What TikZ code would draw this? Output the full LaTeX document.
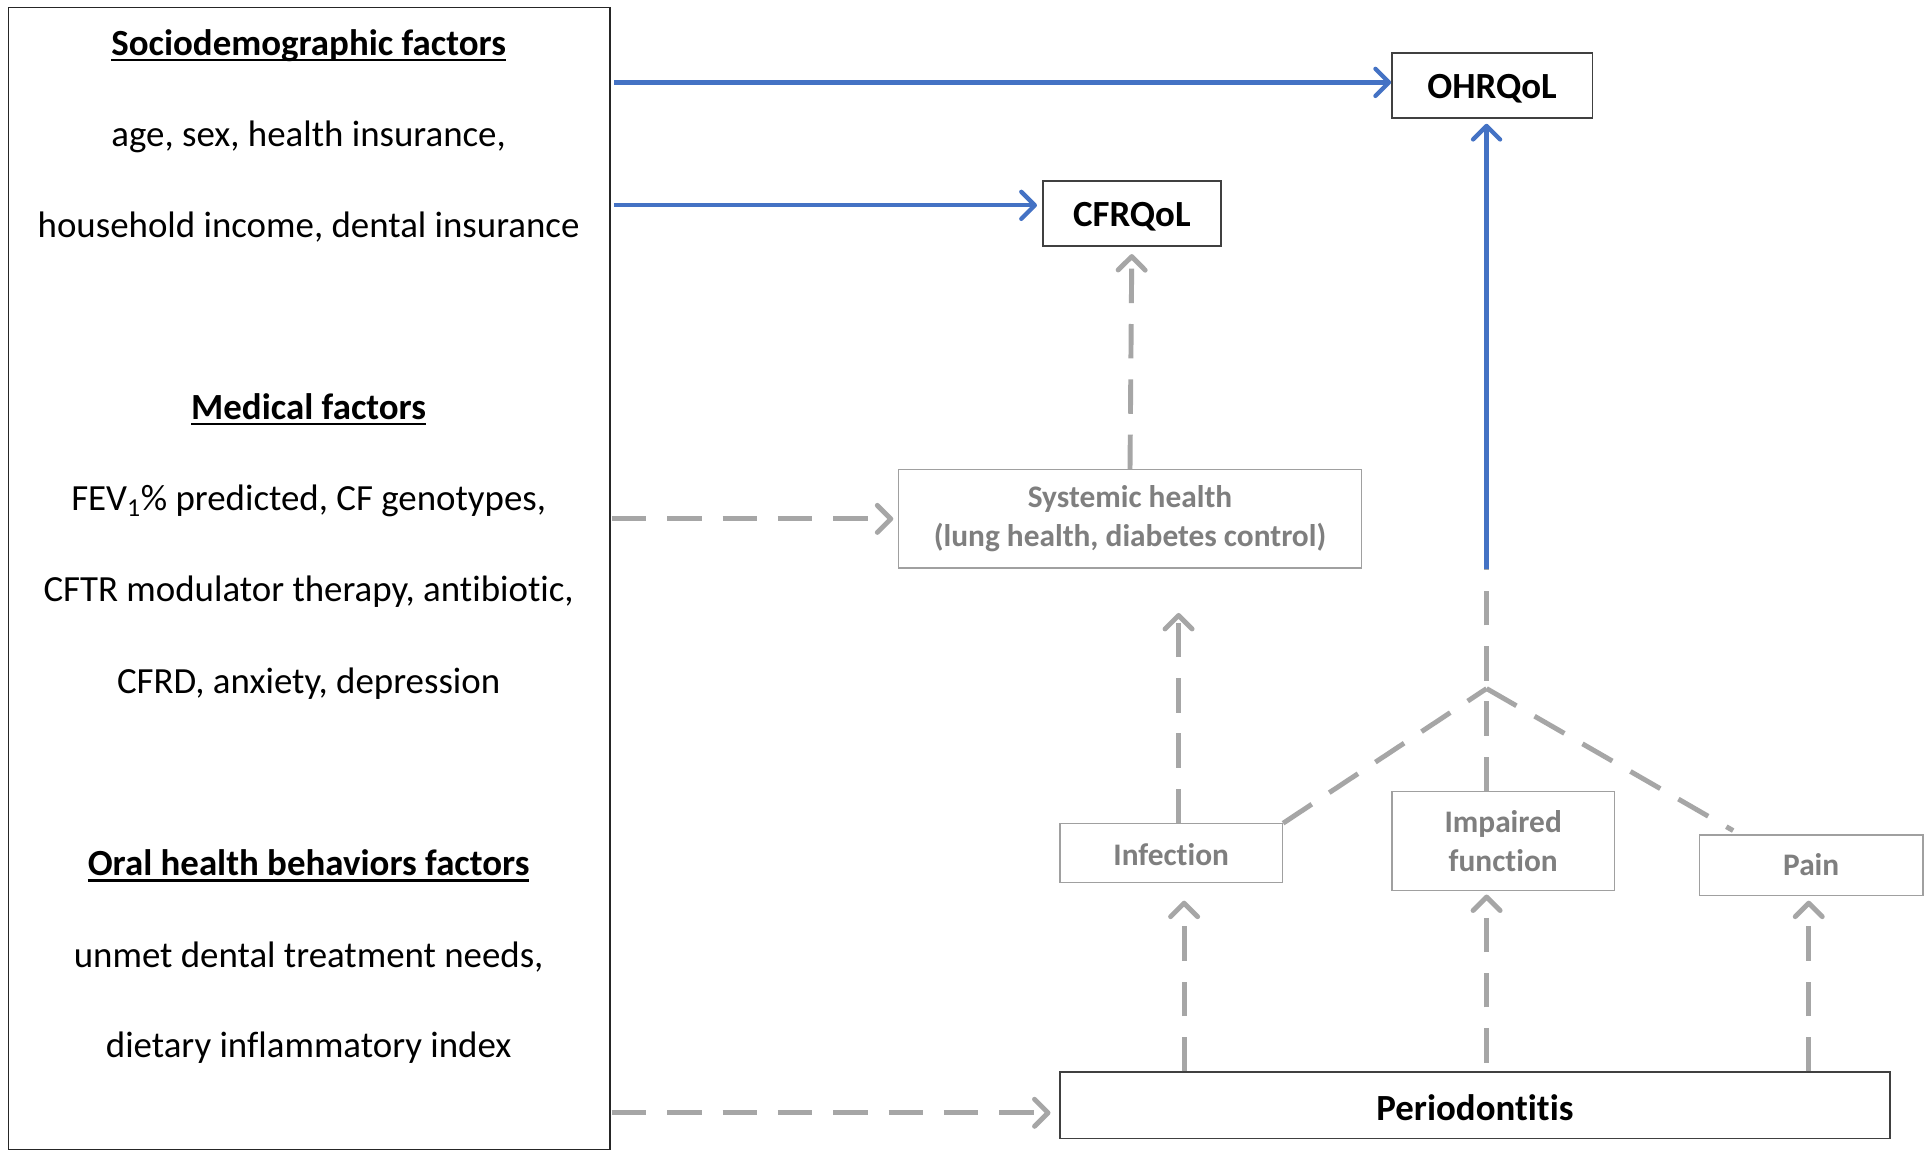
\documentclass[tikz,border=0pt]{standalone}
\usepackage{fontspec}
\setmainfont{Carlito}[Ligatures=NoCommon]
\usetikzlibrary{arrows.meta}
\definecolor{blueln}{HTML}{4472C4}
\definecolor{grayln}{HTML}{A6A6A6}
\definecolor{graytx}{HTML}{7F7F7F}
\definecolor{graybd}{HTML}{A0A0A0}
\newcommand{\thickul}[1]{\setbox0\hbox{#1}\rlap{\raisebox{-5pt}{\rule{\wd0}{2.2pt}}}\box0}
\newcommand{\lowered}[2]{\raisebox{-#1}[\height][\depth]{#2}}
\begin{document}
\begin{tikzpicture}[x=1pt,y=-1pt,
  txt/.style={font=\fontsize{30}{36}\selectfont, inner sep=0pt, anchor=center},
  hdr/.style={font=\fontsize{30}{36}\selectfont\bfseries, inner sep=0pt, anchor=center},
  outbox/.style={draw=black!75, line width=1.3pt, fill=white, inner sep=0pt,
    font=\fontsize{30}{34}\selectfont\bfseries},
  graybox/.style={draw=graybd, line width=1pt, fill=white, inner sep=0pt, text=graytx,
    align=center, font=\fontsize{25.5}{32}\selectfont\bfseries},
  bluearrow/.style={draw=blueln, line width=3.5pt, -{Straight Barb[length=11pt,width=22pt,round]}},
  grayarrow/.style={draw=grayln, line width=4pt, dash pattern=on 28pt off 17pt,
    -{Straight Barb[length=11pt,width=22pt,round]}},
  grayline/.style={draw=grayln, line width=4pt, dash pattern=on 28pt off 17pt},
]
\useasboundingbox (0,0) rectangle (1568,936);
\fill[white] (0,0) rectangle (1568,936);

% left factors box
\node[draw=black!85, line width=1.2pt, minimum width=489pt, minimum height=929pt, inner sep=0pt] (factors) at (251.5,470.5) {};
\node[hdr] (h1) at (251,37) {\thickul{Sociodemographic factors}};
\node[txt] (t1) at (251,111) {age, sex, health insurance,};
\node[txt] (t2) at (251,185) {household income, dental insurance};
\node[hdr] (h2) at (251,333) {\thickul{Medical factors}};
\node[txt] (t3) at (251,407) {FEV\textsubscript{1}\% predicted, CF genotypes,};
\node[txt] (t4) at (251,481) {CFTR modulator therapy, antibiotic,};
\node[txt] (t5) at (251,556) {CFRD, anxiety, depression};
\node[hdr] (h3) at (251,704) {\thickul{Oral health behaviors factors}};
\node[txt] (t6) at (251,778) {unmet dental treatment needs,};
\node[txt] (t7) at (251,852) {dietary inflammatory index};

% outcome boxes
\node[outbox, minimum width=163pt, minimum height=53pt] (ohrqol) at (1213.5,69.5) {\lowered{2.5pt}{OHRQoL}};
\node[outbox, minimum width=145pt, minimum height=53pt] (cfrqol) at (920.5,173.5) {\lowered{2.5pt}{CFRQoL}};
\node[graybox, minimum width=376pt, minimum height=80pt] (systemic) at (919,422) {Systemic health\\(lung health, diabetes control)};
\node[graybox, minimum width=181pt, minimum height=48pt] (infection) at (952.5,694) {\lowered{1pt}{Infection}};
\node[graybox, minimum width=181pt, minimum height=80pt] (impaired) at (1222.5,684) {Impaired\\function};
\node[graybox, minimum width=182pt, minimum height=49pt] (pain) at (1473,703.5) {Pain};
\node[outbox, minimum width=675pt, minimum height=54pt] (perio) at (1199.5,899) {\lowered{2pt}{Periodontitis}};

\coordinate (hub) at (1209,560);
\coordinate (bluestart) at (1209,463);

% blue arrows
\draw[bluearrow] ([xshift=3pt,yshift=2.5pt]factors.east |- ohrqol.west) -- ([yshift=2.5pt]ohrqol.west);
\draw[bluearrow, shorten >=4pt] ([xshift=3pt,yshift=6.5pt]factors.east |- cfrqol.west) -- ([yshift=6.5pt]cfrqol.west);
\draw[bluearrow, shorten >=4pt] (bluestart) -- (bluestart |- ohrqol.south);

% gray dashed network
\draw[grayline] (impaired.north -| hub) -- (bluestart);
\draw[grayline] (infection.north east) -- (hub);
\draw[grayline] (hub) -- ([xshift=28pt,yshift=3pt]pain.north west);

\draw[grayarrow, shorten >=6pt] (systemic.north) -- (cfrqol.south);
\draw[grayarrow, shorten >=36pt] ([xshift=6pt]infection.north) -- ([xshift=6pt]infection.north |- systemic.south);
\draw[grayarrow, shorten >=4pt] ([xshift=1pt]factors.east |- systemic.west) -- (systemic.west);
\draw[grayarrow, shorten >=7pt] ([xshift=1pt,yshift=-6pt]factors.east |- perio.west) -- ([yshift=-6pt]perio.west);

\draw[grayarrow, shorten >=14pt] ([xshift=10.5pt]infection.south |- perio.north) -- ([xshift=10.5pt]infection.south);
\draw[grayarrow, shorten >=3pt, shorten <=7pt] (perio.north -| hub) -- (impaired.south -| hub);
\draw[grayarrow, shorten >=4pt] ([xshift=-2pt]pain.south |- perio.north) -- ([xshift=-2pt]pain.south);
\end{tikzpicture}
\end{document}
